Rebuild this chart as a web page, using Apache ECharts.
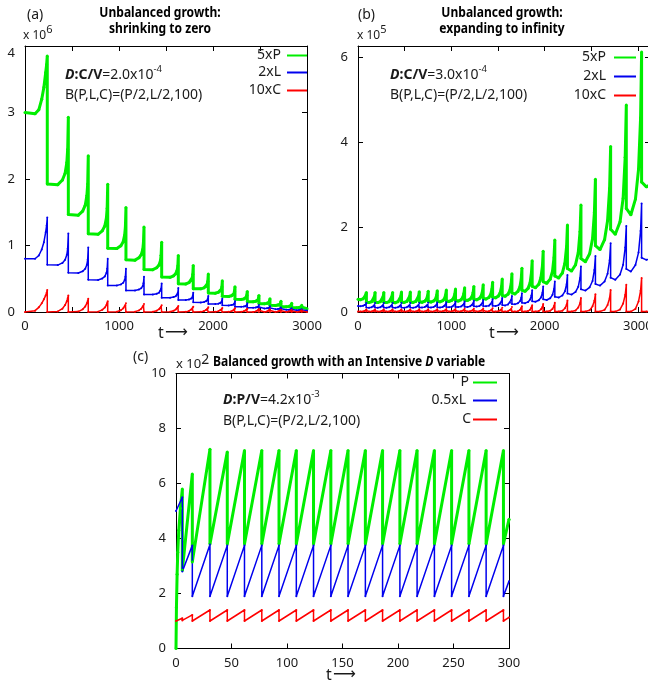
<!DOCTYPE html>
<html><head><meta charset="utf-8">
<script src="https://cdn.jsdelivr.net/npm/echarts@6/dist/echarts.min.js"></script>
<style>html,body{margin:0;padding:0;background:#fff}#c{width:648px;height:683px}</style>
</head><body><div id="c"></div>
<script>
// ---------- Panel (a): shrinking to zero (values x10^6) ----------
const aTimes = [
[0,107,147,178,201,220,230,237],
[237,349,398,427,445,454,461],
[461,567,614,641,658,667,673],
[673,777,822,849,866,874,880],
[880,977,1020,1045,1060,1068,1074],
[1074,1170,1212,1237,1253,1260,1266],
[1266,1360,1401,1426,1441,1448,1454],
[1454,1543,1581,1604,1619,1626,1631],
[1631,1711,1745,1766,1779,1785,1790],
[1790,1870,1905,1926,1939,1945,1950],
[1950,2025,2057,2077,2089,2095,2099],
[2099,2167,2196,2214,2225,2230,2234],
[2234,2300,2328,2345,2356,2361,2365],
[2365,2427,2454,2470,2480,2485,2489],
[2489,2548,2573,2588,2598,2602,2606],
[2606,2665,2690,2705,2715,2719,2723],
[2723,2780,2805,2820,2829,2834,2837],
[2837,2891,2914,2928,2937,2941,2944],
[2944,3000]
];
const aP = [
[3.0,2.98,3.04,3.2,3.38,3.6,3.72,3.85],
[1.925,1.915,1.985,2.086,2.247,2.448,2.93],
[1.465,1.456,1.518,1.607,1.748,1.925,2.35],
[1.175,1.168,1.22,1.294,1.413,1.562,1.92],
[0.96,0.954,0.997,1.058,1.155,1.277,1.57],
[0.785,0.78,0.815,0.864,0.943,1.042,1.28],
[0.64,0.636,0.665,0.706,0.771,0.853,1.05],
[0.525,0.522,0.545,0.577,0.629,0.694,0.85],
[0.425,0.422,0.442,0.469,0.513,0.568,0.70],
[0.35,0.348,0.363,0.385,0.42,0.464,0.57],
[0.285,0.283,0.296,0.315,0.344,0.381,0.47],
[0.235,0.234,0.244,0.258,0.281,0.31,0.38],
[0.19,0.189,0.197,0.209,0.228,0.252,0.31],
[0.155,0.154,0.161,0.17,0.185,0.204,0.25],
[0.125,0.124,0.13,0.137,0.149,0.164,0.20],
[0.10,0.099,0.104,0.11,0.119,0.131,0.16],
[0.08,0.08,0.083,0.088,0.096,0.106,0.13],
[0.065,0.065,0.067,0.071,0.076,0.083,0.10],
[0.05,0.05]
];
const aL = [
[0.8,0.8,0.85,0.94,1.05,1.2,1.3,1.42],
[0.71,0.705,0.738,0.785,0.86,0.954,1.18],
[0.59,0.586,0.613,0.651,0.712,0.788,0.97],
[0.485,0.482,0.504,0.535,0.586,0.649,0.80],
[0.40,0.398,0.415,0.44,0.48,0.53,0.65],
[0.325,0.323,0.337,0.358,0.391,0.432,0.53],
[0.265,0.263,0.275,0.291,0.318,0.351,0.43],
[0.215,0.214,0.224,0.238,0.261,0.29,0.36],
[0.18,0.179,0.187,0.198,0.215,0.237,0.29],
[0.145,0.144,0.151,0.16,0.175,0.194,0.24],
[0.12,0.119,0.125,0.133,0.146,0.162,0.20],
[0.10,0.099,0.104,0.11,0.119,0.131,0.16],
[0.08,0.08,0.083,0.088,0.096,0.106,0.13],
[0.065,0.065,0.067,0.071,0.078,0.086,0.105],
[0.053,0.053,0.055,0.058,0.063,0.07,0.085],
[0.043,0.043,0.044,0.047,0.051,0.056,0.068],
[0.034,0.034,0.035,0.037,0.041,0.045,0.055],
[0.028,0.028,0.029,0.03,0.033,0.036,0.043],
[0.022,0.022]
];
const aC = [
[0.0,0.02,0.07,0.13,0.19,0.25,0.29,0.33],
[0,0.008,0.05,0.105,0.163,0.205,0.25],
[0,0.006,0.04,0.084,0.13,0.164,0.20],
[0,0.005,0.032,0.067,0.104,0.131,0.16],
[0,0.004,0.026,0.055,0.085,0.107,0.13],
[0,0.004,0.024,0.05,0.078,0.098,0.12],
[0,0.003,0.02,0.042,0.065,0.082,0.10],
[0,0.003,0.018,0.038,0.059,0.074,0.09],
[0,0.002,0.016,0.034,0.052,0.066,0.08],
[0,0.002,0.014,0.029,0.046,0.057,0.07],
[0,0.002,0.012,0.025,0.039,0.049,0.06],
[0,0.002,0.011,0.023,0.036,0.045,0.055],
[0,0.002,0.01,0.021,0.033,0.041,0.05],
[0,0.001,0.009,0.019,0.029,0.037,0.045],
[0,0.001,0.008,0.017,0.026,0.033,0.04],
[0,0.001,0.007,0.015,0.023,0.029,0.035],
[0,0.001,0.006,0.013,0.02,0.025,0.03],
[0,0.001,0.005,0.011,0.016,0.02,0.025],
[0,0]
];

// ---------- Panel (b): expanding to infinity (values x10^5) ----------
const bTimes = [
[0,27,54,72,84,90],
[90,118,146,164,176,183],
[183,211,239,258,270,277],
[277,305,333,352,364,371],
[371,400,428,447,459,466],
[466,495,523,542,554,561],
[561,590,619,638,650,657],
[657,686,715,734,746,753],
[753,782,811,831,843,850],
[850,879,908,928,940,947],
[947,976,1006,1025,1038,1045],
[1045,1074,1104,1123,1136,1143],
[1143,1173,1202,1222,1235,1242],
[1242,1272,1302,1322,1335,1342],
[1342,1372,1403,1423,1436,1443],
[1443,1474,1505,1525,1539,1546],
[1546,1577,1608,1629,1643,1650],
[1650,1682,1714,1736,1750,1757],
[1757,1790,1823,1845,1859,1867],
[1867,1902,1938,1961,1977,1985],
[1985,2023,2060,2085,2101,2110],
[2110,2151,2191,2218,2236,2245],
[2245,2289,2332,2361,2380,2390],
[2390,2437,2483,2514,2534,2545],
[2545,2594,2643,2675,2697,2708],
[2708,2758,2809,2842,2864,2876],
[2876,2925,2974,3007,3029,3040],
[3040,3091,3130]
];
const bP = [
[0.30,0.29,0.31,0.36,0.41,0.46],
[0.23,0.221,0.244,0.288,0.363,0.46],
[0.23,0.221,0.244,0.288,0.363,0.46],
[0.23,0.221,0.244,0.288,0.363,0.46],
[0.23,0.22,0.244,0.29,0.369,0.47],
[0.235,0.226,0.249,0.294,0.371,0.47],
[0.235,0.225,0.25,0.296,0.377,0.48],
[0.24,0.23,0.255,0.303,0.385,0.49],
[0.245,0.235,0.26,0.309,0.393,0.50],
[0.25,0.239,0.266,0.318,0.407,0.52],
[0.26,0.249,0.277,0.33,0.422,0.54],
[0.27,0.258,0.288,0.345,0.444,0.57],
[0.285,0.272,0.304,0.364,0.468,0.60],
[0.30,0.286,0.32,0.385,0.497,0.64],
[0.32,0.305,0.343,0.415,0.54,0.70],
[0.35,0.333,0.376,0.458,0.599,0.78],
[0.39,0.37,0.421,0.518,0.686,0.90],
[0.45,0.427,0.485,0.595,0.786,1.03],
[0.515,0.487,0.557,0.689,0.918,1.21],
[0.605,0.572,0.655,0.811,1.084,1.43],
[0.715,0.676,0.774,0.961,1.286,1.70],
[0.85,0.802,0.922,1.15,1.546,2.05],
[1.025,0.965,1.115,1.399,1.892,2.52],
[1.26,1.185,1.372,1.728,2.345,3.13],
[1.565,1.472,1.705,2.149,2.919,3.90],
[1.95,1.833,2.126,2.683,3.649,4.88],
[2.44,2.292,2.661,3.363,4.58,6.13],
[3.065,2.95,3.0]
];
const bL = [
[0.14,0.135,0.145,0.165,0.185,0.21],
[0.105,0.101,0.111,0.131,0.166,0.21],
[0.105,0.101,0.111,0.131,0.166,0.21],
[0.105,0.101,0.111,0.131,0.166,0.21],
[0.105,0.101,0.111,0.131,0.166,0.21],
[0.105,0.101,0.111,0.131,0.166,0.21],
[0.105,0.101,0.112,0.133,0.169,0.215],
[0.108,0.104,0.115,0.136,0.173,0.22],
[0.11,0.105,0.117,0.139,0.177,0.225],
[0.113,0.108,0.12,0.142,0.181,0.23],
[0.115,0.11,0.123,0.146,0.188,0.24],
[0.12,0.115,0.128,0.153,0.195,0.25],
[0.125,0.119,0.133,0.16,0.206,0.265],
[0.133,0.127,0.142,0.17,0.218,0.28],
[0.14,0.134,0.15,0.18,0.233,0.30],
[0.15,0.143,0.161,0.195,0.254,0.33],
[0.165,0.156,0.178,0.219,0.29,0.38],
[0.19,0.18,0.205,0.253,0.335,0.44],
[0.22,0.208,0.237,0.293,0.388,0.51],
[0.255,0.241,0.276,0.341,0.455,0.60],
[0.30,0.283,0.325,0.405,0.544,0.72],
[0.36,0.34,0.391,0.488,0.656,0.87],
[0.435,0.41,0.473,0.594,0.803,1.07],
[0.535,0.504,0.582,0.731,0.99,1.32],
[0.66,0.622,0.718,0.9,1.217,1.62],
[0.81,0.761,0.883,1.115,1.518,2.03],
[1.015,0.953,1.108,1.401,1.911,2.56],
[1.28,1.23,1.25]
];
const bC = [
[0.01,0.01,0.014,0.025,0.041,0.06],
[0.01,0.01,0.014,0.025,0.041,0.06],
[0.01,0.01,0.014,0.025,0.041,0.06],
[0.01,0.01,0.014,0.025,0.041,0.06],
[0.01,0.01,0.014,0.025,0.042,0.061],
[0.01,0.01,0.014,0.025,0.042,0.061],
[0.01,0.01,0.014,0.026,0.042,0.062],
[0.01,0.01,0.014,0.026,0.043,0.064],
[0.01,0.01,0.014,0.027,0.044,0.065],
[0.01,0.01,0.015,0.027,0.046,0.068],
[0.01,0.01,0.015,0.028,0.047,0.07],
[0.01,0.01,0.015,0.029,0.05,0.074],
[0.01,0.01,0.015,0.03,0.052,0.078],
[0.01,0.01,0.016,0.032,0.055,0.083],
[0.01,0.01,0.016,0.034,0.06,0.091],
[0.01,0.01,0.017,0.037,0.066,0.10],
[0.01,0.01,0.019,0.042,0.076,0.117],
[0.01,0.01,0.02,0.047,0.087,0.134],
[0.01,0.01,0.022,0.054,0.101,0.157],
[0.01,0.01,0.024,0.063,0.119,0.186],
[0.01,0.01,0.027,0.073,0.14,0.22],
[0.01,0.01,0.031,0.088,0.171,0.27],
[0.01,0.01,0.036,0.106,0.208,0.33],
[0.01,0.01,0.043,0.133,0.264,0.42],
[0.01,0.01,0.051,0.163,0.326,0.52],
[0.01,0.01,0.06,0.199,0.4,0.64],
[0.01,0.01,0.073,0.247,0.5,0.80],
[0.01,0.01,0.01]
];

// ---------- Panel (c): balanced growth (values x10^2) ----------
const cP = [[0,0],[0.4,1.5],[1,2.7],[1.6,3.5],[2.5,4.3],[4,5.1],[5.7,5.8],[5.7,2.85],[14.7,6.35],[14.7,3.15],
[30.6,7.25],[30.6,3.8],[46.2,7.15],[46.2,3.8],[61.7,7.2],[61.7,3.8],[77.3,7.2],[77.3,3.8],[92.8,7.2],[92.8,3.8],
[108.4,7.2],[108.4,3.8],[123.9,7.2],[123.9,3.8],[139.5,7.2],[139.5,3.8],[155.0,7.2],[155.0,3.8],[170.6,7.2],[170.6,3.8],
[186.1,7.2],[186.1,3.8],[201.7,7.2],[201.7,3.8],[217.2,7.2],[217.2,3.8],[232.8,7.2],[232.8,3.8],[248.3,7.2],[248.3,3.8],
[263.9,7.2],[263.9,3.8],[279.4,7.2],[279.4,3.8],[295.0,7.2],[295.0,3.8],[300,4.7]];
const cL = [[0,5.0],[5.7,5.5],[5.7,2.8],[14.7,3.75],[14.7,1.9],
[30.6,3.78],[30.6,1.9],[46.2,3.75],[46.2,1.9],[61.7,3.75],[61.7,1.9],[77.3,3.75],[77.3,1.9],[92.8,3.75],[92.8,1.9],
[108.4,3.75],[108.4,1.9],[123.9,3.75],[123.9,1.9],[139.5,3.75],[139.5,1.9],[155.0,3.75],[155.0,1.9],[170.6,3.75],[170.6,1.9],
[186.1,3.75],[186.1,1.9],[201.7,3.75],[201.7,1.9],[217.2,3.75],[217.2,1.9],[232.8,3.75],[232.8,1.9],[248.3,3.75],[248.3,1.9],
[263.9,3.75],[263.9,1.9],[279.4,3.75],[279.4,1.9],[295.0,3.75],[295.0,1.9],[300,2.45]];
const cC = [[0,1.0],[5.7,1.1],[5.7,1.02],[14.7,1.22],[14.7,1.0],
[30.6,1.4],[30.6,1.0],[46.2,1.4],[46.2,1.0],[61.7,1.4],[61.7,1.0],[77.3,1.4],[77.3,1.0],[92.8,1.4],[92.8,1.0],
[108.4,1.4],[108.4,1.0],[123.9,1.4],[123.9,1.0],[139.5,1.4],[139.5,1.0],[155.0,1.4],[155.0,1.0],[170.6,1.4],[170.6,1.0],
[186.1,1.4],[186.1,1.0],[201.7,1.4],[201.7,1.0],[217.2,1.4],[217.2,1.0],[232.8,1.4],[232.8,1.0],[248.3,1.4],[248.3,1.0],
[263.9,1.4],[263.9,1.0],[279.4,1.4],[279.4,1.0],[295.0,1.4],[295.0,1.0],[300,1.13]];

const namesAB = ['5xP','2xL','10xC'];
const namesC = ['P','0.5xL','C'];

// ---------- styles ----------
const GREEN = '#00ee00', BLUE = '#0000ee', RED = '#ff0000';
const TXT = '#1a1a1a';
const FN = "'Noto Sans', 'DejaVu Sans', sans-serif";
const FT = "'Noto Sans', 'DejaVu Sans', sans-serif";
const TSX = 0.86; // condensed title

function zip(times, vals) {
  const out = [];
  for (let k = 0; k < times.length; k++)
    for (let i = 0; i < times[k].length; i++) out.push([times[k][i], vals[k][i]]);
  return out;
}
function xAx(grid, min, max, interval, pos, showLabel, every) {
  return {type:'value', gridIndex:grid, min, max, interval, position:pos,
    axisLine:{show:true, onZero:false, lineStyle:{color:'#000', width:1}},
    axisTick:{show:true, inside:true, length:5, lineStyle:{color:'#000'}},
    splitLine:{show:false},
    axisLabel:{show:showLabel, margin:8, color:TXT, fontFamily:FN, fontSize:13,
      showMinLabel:true, showMaxLabel:true,
      formatter: v => (Math.abs(v % every) < 1e-9 ? String(v) : '')}};
}
function yAx(grid, min, max, interval, pos, showLabel, every) {
  const a = xAx(grid, min, max, interval, pos, showLabel, every);
  a.axisLabel.margin = 10;
  return a;
}
function ser(name, xi, yi, data, color, w, sym) {
  return {name, type:'line', xAxisIndex:xi, yAxisIndex:yi, data, showSymbol:true, symbol:'circle',
    symbolSize:sym, itemStyle:{color}, lineStyle:{color, width:w}, animation:false, silent:true, clip:true};
}
function txt(x, y, text, st, extra) {
  return Object.assign({type:'text', x, y, silent:true, z:100,
    style:Object.assign({text, fill:TXT, fontFamily:FN, fontSize:14, align:'left', verticalAlign:'middle'}, st || {})}, extra || {});
}
function seg(x1, y1, x2, color, w) {
  return {type:'line', silent:true, z:100, shape:{x1, y1, x2, y2:y1}, style:{stroke:color, lineWidth:w}};
}
const richAnn = {
  bi:{fontFamily:FN, fontSize:14, fontWeight:'bold', fontStyle:'italic', fill:TXT, lineHeight:18, verticalAlign:'bottom'},
  b:{fontFamily:FN, fontSize:14, fontWeight:'bold', fill:TXT, lineHeight:18, verticalAlign:'bottom'},
  n:{fontFamily:FN, fontSize:14, fill:TXT, lineHeight:18, verticalAlign:'bottom'},
  s:{fontFamily:FN, fontSize:9.5, fill:TXT, lineHeight:18, verticalAlign:'top'}
};
const richExp = {
  n:{fontFamily:FN, fontSize:12, fill:TXT, lineHeight:17, verticalAlign:'bottom'},
  s:{fontFamily:FN, fontSize:11, fill:TXT, lineHeight:17, verticalAlign:'top'}
};
const richTitle = {
  t:{fontFamily:FT, fontSize:14, fontWeight:'bold', fill:'#000'},
  ti:{fontFamily:FT, fontSize:14, fontWeight:'bold', fontStyle:'italic', fill:'#000'}
};
const ARROW = {fontFamily:"'DejaVu Sans', sans-serif", fontSize:16, fill:TXT};

const yA = yAx(0, 0, 4, 1, 'left', true, 1);
yA.axisLabel.formatter = v => (v === 4 ? '{lo|4}' : (Math.abs(v % 1) < 1e-9 ? String(v) : ''));
yA.axisLabel.rich = {lo:{fontFamily:FN, fontSize:13, color:TXT, padding:[14,0,0,0]}};

const chart = echarts.init(document.getElementById('c'), null, {renderer:'canvas'});
chart.setOption({
  backgroundColor:'#fff',
  animation:false,
  grid:[
    {left:25, top:46, width:282, height:266, outerBoundsMode:'none', containLabel:false},
    {left:358, top:46, width:292, height:266, outerBoundsMode:'none', containLabel:false},
    {left:176, top:373.5, width:333, height:275, outerBoundsMode:'none', containLabel:false}
  ],
  xAxis:[
    xAx(0, 0, 3000, 500, 'bottom', true, 1000),
    xAx(0, 0, 3000, 500, 'top', false, 1000),
    xAx(1, 0, 3130, 500, 'bottom', true, 1000),
    xAx(1, 0, 3130, 500, 'top', false, 1000),
    xAx(2, 0, 300, 50, 'bottom', true, 50),
    xAx(2, 0, 300, 50, 'top', false, 50)
  ],
  yAxis:[
    yA,
    yAx(0, 0, 4, 1, 'right', false, 1),
    yAx(1, 0, 6.27, 2, 'left', true, 2),
    yAx(1, 0, 6.27, 2, 'right', false, 2),
    yAx(2, 0, 10, 2, 'left', true, 2),
    yAx(2, 0, 10, 2, 'right', false, 2)
  ],
  series:[
    ser(namesAB[0], 0, 0, zip(aTimes, aP), GREEN, 3, 3),
    ser(namesAB[1], 0, 0, zip(aTimes, aL), BLUE, 1.5, 2),
    ser(namesAB[2], 0, 0, zip(aTimes, aC), RED, 1.5, 2),
    ser(namesAB[0], 2, 2, zip(bTimes, bP), GREEN, 3, 3),
    ser(namesAB[1], 2, 2, zip(bTimes, bL), BLUE, 1.5, 2),
    ser(namesAB[2], 2, 2, zip(bTimes, bC), RED, 1.5, 2),
    ser(namesC[0], 4, 4, cP, GREEN, 3, 3),
    ser(namesC[1], 4, 4, cL, BLUE, 1.5, 2),
    ser(namesC[2], 4, 4, cC, RED, 1.5, 2)
  ],
  graphic:[
    // panel (a)
    txt(27, 15, '(a)'),
    txt(160, 13, '{t|Unbalanced growth:}', {align:'center', rich:richTitle}, {scaleX:TSX}),
    txt(160, 29, '{t|shrinking to zero}', {align:'center', rich:richTitle}, {scaleX:TSX}),
    txt(23, 33, '{n|x 10}{s|6}', {rich:richExp}),
    txt(65, 73, '{bi|D}{b|:C/V}{n|=2.0x10}{s|-4}', {rich:richAnn}),
    txt(65, 95, 'B(P,L,C)=(P/2,L/2,100)'),
    txt(281, 55, namesAB[0], {align:'right'}), seg(287, 55.5, 307, GREEN, 2),
    txt(281, 72, namesAB[1], {align:'right'}), seg(287, 72.5, 307, BLUE, 2),
    txt(281, 90, namesAB[2], {align:'right'}), seg(287, 90.5, 307, RED, 2),
    txt(158, 333, 't', {fontSize:16}), txt(165, 333, '\u27F6', ARROW),
    // panel (b)
    txt(358, 15, '(b)'),
    txt(502, 13, '{t|Unbalanced growth:}', {align:'center', rich:richTitle}, {scaleX:TSX}),
    txt(502, 29, '{t|expanding to infinity}', {align:'center', rich:richTitle}, {scaleX:TSX}),
    txt(357, 33, '{n|x 10}{s|5}', {rich:richExp}),
    txt(390, 73, '{bi|D}{b|:C/V}{n|=3.0x10}{s|-4}', {rich:richAnn}),
    txt(390, 95, 'B(P,L,C)=(P/2,L/2,100)'),
    txt(606, 57, namesAB[0], {align:'right'}), seg(614, 57.5, 636, GREEN, 2),
    txt(606, 76, namesAB[1], {align:'right'}), seg(614, 76.5, 636, BLUE, 2),
    txt(606, 95, namesAB[2], {align:'right'}), seg(614, 95.5, 636, RED, 2),
    txt(489, 333, 't', {fontSize:16}), txt(496, 333, '\u27F6', ARROW),
    // panel (c)
    txt(133, 357, '(c)'),
    txt(176, 362, '{n|x 10}{s|2}', {rich:{
      n:{fontFamily:FN, fontSize:13, fill:TXT, lineHeight:18, verticalAlign:'bottom'},
      s:{fontFamily:FN, fontSize:14, fill:TXT, lineHeight:18, verticalAlign:'top'}}}),
    txt(213, 362, '{t|Balanced growth with an Intensive }{ti|D}{t| variable}', {rich:richTitle}, {scaleX:TSX}),
    txt(223, 398, '{bi|D}{b|:P/V}{n|=4.2x10}{s|-3}', {rich:richAnn}),
    txt(223, 421, 'B(P,L,C)=(P/2,L/2,100)'),
    txt(469, 382, namesC[0], {align:'right'}), seg(473, 382.5, 497, GREEN, 2),
    txt(466, 400, namesC[1], {align:'right'}), seg(473, 400.5, 497, BLUE, 2),
    txt(471, 419, namesC[2], {align:'right'}), seg(473, 419.5, 497, RED, 2),
    txt(326, 675, 't', {fontSize:16}), txt(333, 675, '\u27F6', ARROW)
  ]
});
</script>
</body></html>
